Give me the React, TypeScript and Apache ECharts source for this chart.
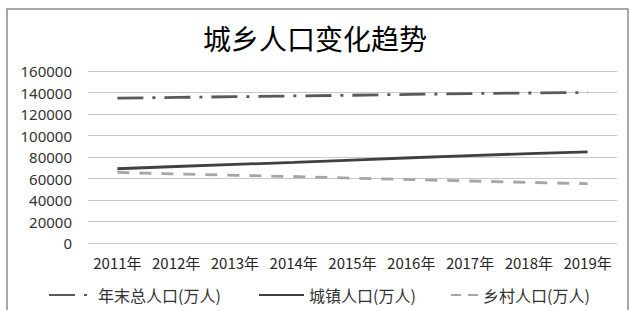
import React, { useEffect, useRef } from "react";
import * as echarts from "echarts";

const categories = ["2011年", "2012年", "2013年", "2014年", "2015年", "2016年", "2017年", "2018年", "2019年"];
const totalPop = [134735, 135404, 136072, 136782, 137462, 138271, 139008, 139538, 140005];
const urbanPop = [69079, 71182, 73111, 74916, 77116, 79298, 81347, 83137, 84843];
const ruralPop = [65656, 64222, 62961, 61866, 60346, 58973, 57661, 56401, 55162];
const seriesNames = ["年末总人口(万人)", "城镇人口(万人)", "乡村人口(万人)"];
const titleText = "城乡人口变化趋势";

export default function App() {
  const ref = useRef<HTMLDivElement>(null);
  useEffect(() => {
    document.body.style.margin = "0";
    const chart = echarts.init(ref.current!, null, { renderer: "svg" });
    const cjk = "'Noto Sans CJK SC', 'Noto Sans', sans-serif";
    const legendText = { fontSize: 16, color: "#333", fontFamily: cjk };
    const legendCommon = {
      top: 282,
      itemHeight: 14,
      itemGap: 8,
      textStyle: legendText,
      itemStyle: { opacity: 0 },
    };
    chart.setOption({
      animation: false,
      backgroundColor: "#fff",
      title: {
        text: titleText,
        left: 310,
        textAlign: "center",
        top: 19,
        textStyle: { fontSize: 28, fontWeight: "normal", color: "#000", fontFamily: cjk },
      },
      graphic: [
        {
          type: "rect",
          shape: { x: 7, y: 9, width: 621, height: 320 },
          style: { fill: "none", stroke: "#8c8c8c", lineWidth: 1.5 },
          silent: true,
        },
      ],
      grid: { left: 88, right: 13, top: 71, bottom: 67 },
      xAxis: {
        type: "category",
        data: categories,
        boundaryGap: true,
        axisLine: { show: false },
        axisTick: { show: false },
        axisLabel: { fontSize: 15, color: "#262626", margin: 12, fontFamily: cjk, interval: 0 },
      },
      yAxis: {
        type: "value",
        min: 0,
        max: 160000,
        interval: 20000,
        axisLine: { show: false },
        axisTick: { show: false },
        axisLabel: {
          fontSize: 15,
          color: "#333",
          margin: 16,
          fontFamily: "'Noto Sans', sans-serif",
          formatter: (v: number) => String(v),
        },
        splitLine: { lineStyle: { color: "#c8c8c8", width: 1 } },
      },
      legend: [
        { ...legendCommon, data: [seriesNames[0]], left: 43, itemWidth: 44 },
        { ...legendCommon, data: [seriesNames[1]], left: 253, itemWidth: 45 },
        { ...legendCommon, data: [seriesNames[2]], left: 445, itemWidth: 27, lineStyle: { type: [10, 7] } },
      ],
      series: [
        {
          name: seriesNames[0],
          type: "line",
          data: totalPop,
          symbol: "none",
          lineStyle: { color: "#595959", width: 2.8, type: [26, 9, 3, 9] },
          itemStyle: { color: "#595959" },
        },
        {
          name: seriesNames[1],
          type: "line",
          data: urbanPop,
          symbol: "none",
          lineStyle: { color: "#404040", width: 2.8, type: "solid" },
          itemStyle: { color: "#404040" },
        },
        {
          name: seriesNames[2],
          type: "line",
          data: ruralPop,
          symbol: "none",
          lineStyle: { color: "#a6a6a6", width: 2.8, type: [12, 10] },
          itemStyle: { color: "#a6a6a6" },
        },
      ],
    });
    return () => chart.dispose();
  }, []);
  return <div ref={ref} style={{ width: 630, height: 310 }} />;
}
